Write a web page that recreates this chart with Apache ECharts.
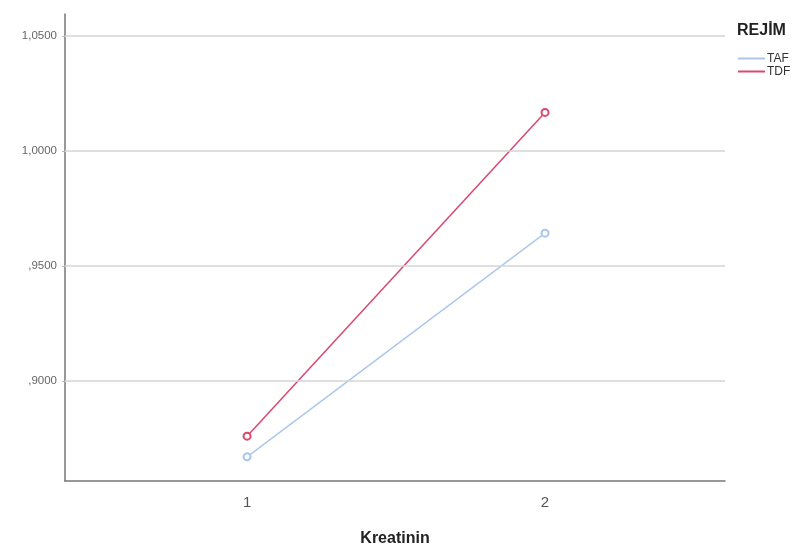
<!DOCTYPE html>
<html><head><meta charset="utf-8">
<script src="https://cdn.jsdelivr.net/npm/echarts@6/dist/echarts.min.js"></script>
<style>html,body{margin:0;padding:0;background:#fff}#c{width:793px;height:548px}</style>
</head><body><div id="c"></div>
<script>
const categories = [1, 2];
const tafValues = [0.867, 0.9643];
const tdfValues = [0.876, 1.0168];
const yTicks = [0.90, 0.95, 1.00, 1.05];
const yTickLabels = [',9000', ',9500', '1,0000', '1,0500'];
const seriesNames = ['TAF', 'TDF'];

const chart = echarts.init(document.getElementById('c'));
chart.setOption({
  animation: false,
  backgroundColor: '#fff',
  grid: { left: 65, right: 68, top: 14, bottom: 67, containLabel: false, outerBoundsMode: 'none' },
  graphic: [{
    type: 'text', left: 737, top: 23,
    style: { text: 'REJİM', font: 'bold 16px Arial, "Liberation Sans"', fill: '#222' }
  }],
  legend: {
    orient: 'vertical', left: 733, top: 47, itemWidth: 27, itemHeight: 2, itemGap: 0,
    icon: 'rect',
    textStyle: { fontSize: 12, color: '#333', fontFamily: 'Arial, "Liberation Sans"', padding: [0,0,0,-3], lineHeight: 13 },
    data: seriesNames
  },
  xAxis: {
    type: 'value', min: 0.389, max: 2.604,
    name: 'Kreatinin', nameLocation: 'middle', nameGap: 50,
    nameTextStyle: { fontSize: 16, color: '#222', fontFamily: 'Arial, "Liberation Sans"', fontWeight: 'bold' },
    axisLine: { show: true, lineStyle: { color: '#777', width: 1.5 } },
    axisTick: { show: false, customValues: categories },
    axisLabel: { customValues: categories, fontSize: 15, color: '#555', margin: 14, fontFamily: 'Arial, "Liberation Sans"' },
    splitLine: { show: false }
  },
  yAxis: {
    type: 'value', min: 0.8565, max: 1.0596,
    axisLine: { show: true, lineStyle: { color: '#777', width: 1.5 } },
    axisTick: { show: true, length: 3, customValues: yTicks, lineStyle: { color: '#bbb' } },
    axisLabel: {
      customValues: yTicks, fontSize: 11.5, color: '#666', margin: 8, fontFamily: 'Arial, "Liberation Sans"',
      formatter: v => { const i = yTicks.findIndex(t => Math.abs(t - v) < 1e-6); return i >= 0 ? yTickLabels[i] : ''; }
    },
    splitLine: { show: false }
  },
  series: [
    {
      name: 'grid', type: 'line', data: [], silent: true, z: 1,
      markLine: {
        silent: true, symbol: 'none', label: { show: false },
        lineStyle: { color: '#d4d4d4', width: 1.5, type: 'solid' },
        data: yTicks.map(v => ({ yAxis: v }))
      }
    },
    {
      name: seriesNames[0], type: 'line', z: 3,
      data: categories.map((c, i) => [c, tafValues[i]]),
      symbol: 'emptyCircle', symbolSize: 7,
      itemStyle: { color: '#a9c6ea', borderWidth: 1.2 },
      lineStyle: { color: '#a9c6ea', width: 1.3 }
    },
    {
      name: seriesNames[1], type: 'line', z: 3,
      data: categories.map((c, i) => [c, tdfValues[i]]),
      symbol: 'emptyCircle', symbolSize: 7,
      itemStyle: { color: '#d9486e', borderWidth: 1.2 },
      lineStyle: { color: '#d9486e', width: 1.5 }
    }
  ]
});
</script></body></html>
